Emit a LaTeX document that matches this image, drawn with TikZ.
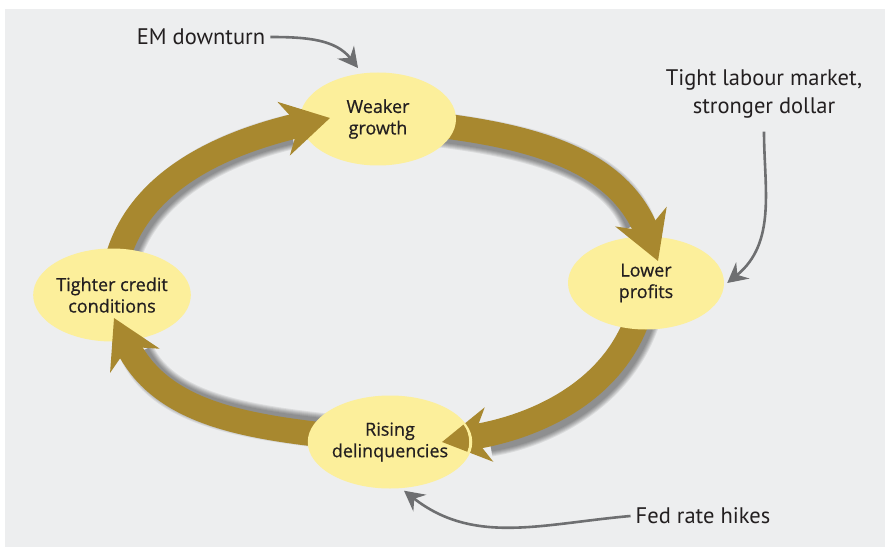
\documentclass[tikz,border=0pt]{standalone}
\usepackage{fontspec}
\setmainfont{PT Sans}
\newfontfamily\stagefont[FakeBold=0.6]{Open Sans}
\usepackage{tikz}
\usetikzlibrary{arrows.meta,positioning,calc,backgrounds,shapes.geometric}
\definecolor{panel}{HTML}{EDEEEF}
\definecolor{butter}{HTML}{FCEF9B}
\definecolor{ochre}{HTML}{A8882F}
\definecolor{pewter}{HTML}{6E6F71}
\definecolor{ink}{HTML}{231F20}
\tikzset{
  stage/.style={ellipse,fill=butter,minimum width=156pt,minimum height=93pt,inner sep=0pt,align=center,text=ink,font=\stagefont\fontsize{18}{21.5}\selectfont},
  cyc/.style={draw=ochre,line width=25pt,-{Stealth[length=47pt,width=54pt,inset=15pt]}},
  cycshade/.style={draw=black,draw opacity=0.08,line width=#1,shorten >=44pt},
  push/.style={draw=pewter,line width=2.6pt,-{Stealth[length=20pt,width=21pt,inset=7pt]}},
  cause/.style={font=\fontsize{22.5}{28}\selectfont,text=ink,align=center,inner sep=5pt},
}
\begin{document}
\begin{tikzpicture}[x=1pt,y=1pt]
\useasboundingbox (0,0) rectangle (885,547);
\begin{scope}[on background layer]
\fill[panel] (5,0) rectangle (885,538);
\end{scope}
% the four stages of the cycle
\node[stage] (wg) at (378,428) {Weaker\\growth};
\node[stage] (lp) at (646,264) {Lower\\profits};
\node[stage] (rd) at (390,105) {Rising\\delinquencies};
\node[stage] (tc) at (112,252) {Tighter credit\\conditions};
\coordinate (wgtip) at ($(wg.center)+(-48,1)$);
\coordinate (lptip) at ($(lp.center)+(12,22)$);
\coordinate (rdtip) at ($(rd.center)+(52,0)$);
\coordinate (tctip) at ($(tc.center)+(2,-23)$);
% cycle arrows behind the stages
\begin{scope}[on background layer]
\foreach \src/\tip/\o/\i/\dx/\dy in {tc/wgtip/88/193/4/-4, wg/lptip/-5/111/-4/-4, lp/rdtip/-97/9/4/-4, rd/tctip/174/-64/4/4} {
  \foreach \w in {25,27,29,31,33,35} \draw[cycshade=\w pt] ($(\src.center)+(\dx,\dy)$) to[out=\o,in=\i] ($(\tip)+(\dx,\dy)$);
  \draw[cyc] (\src.center) to[out=\o,in=\i] (\tip);
}
\end{scope}
% arrow heads again, over the stage they point at
\foreach \src/\dst/\tip/\o/\i in {tc/wg/wgtip/88/193, wg/lp/lptip/-5/111, lp/rd/rdtip/-97/9, rd/tc/tctip/174/-64} {
  \begin{scope}
  \clip (\dst.center) ellipse [x radius=79pt,y radius=47.5pt];
  \draw[cyc] (\src.center) to[out=\o,in=\i] (\tip);
  \end{scope}
}
% outside shocks
\node[cause] (em) at (201,510) {EM downturn};
\node[cause] (tl) at (764,453) {Tight labour market,\\stronger dollar};
\node[cause] (fed) at (703,31) {Fed rate hikes};
\coordinate (emtip) at ($(wg.center)+(-20,51)$);
\coordinate (tltip) at ($(lp.east)+(3,0)$);
\coordinate (fedtip) at ($(rd.south)+(14,-2)$);
\draw[push] (em.east) to[out=0,in=128] (emtip);
\draw[push,shorten <=8pt] (tl.south) to[out=-90,in=39] (tltip);
\draw[push] (fed.west) to[out=185,in=322] (fedtip);
\end{tikzpicture}
\end{document}
